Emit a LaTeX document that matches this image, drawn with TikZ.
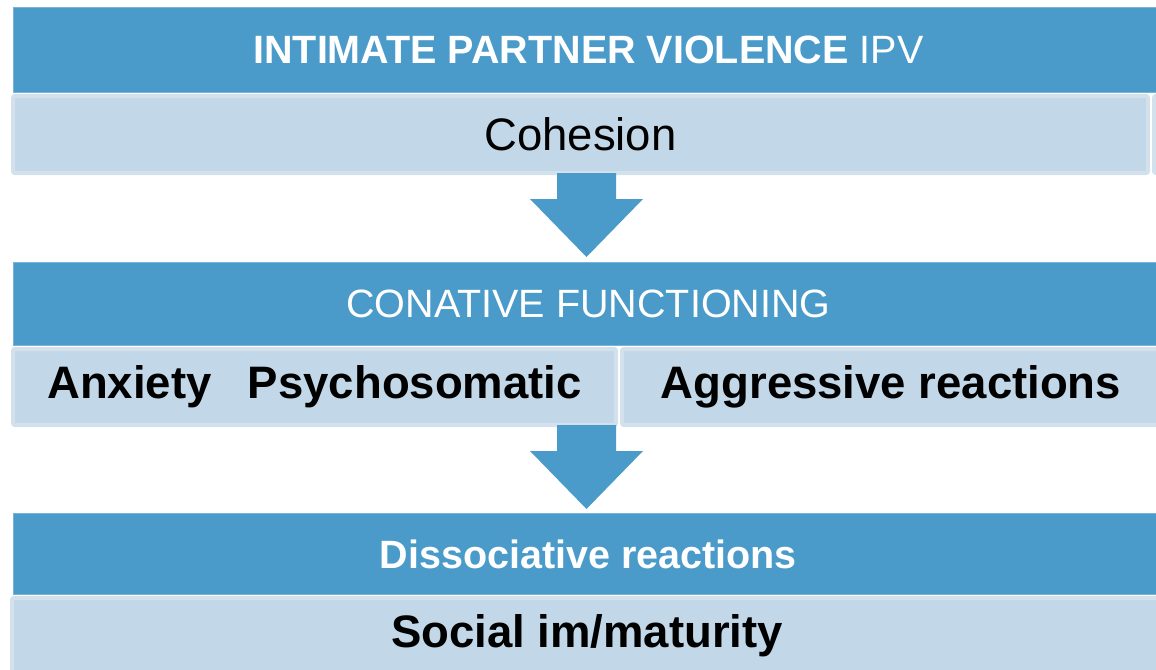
\documentclass[tikz,border=0pt]{standalone}
\usepackage{fontspec}
\setmainfont{Liberation Sans}

\definecolor{bandblue}{HTML}{4A9BCA}
\definecolor{paleblue}{HTML}{C2D7E7}
\definecolor{paleedge}{HTML}{D3E1EC}

\begin{document}
\begin{tikzpicture}[x=1pt,y=-1pt]

    \tikzset{titleband/.style={fill=bandblue,draw=bandblue!75!white,line width=0.8pt,anchor=north west,inner sep=0pt,text=white,font=\fontsize{39.5}{44}\selectfont}}
    \tikzset{itemband/.style={fill=paleblue,draw=paleedge,line width=4pt,rounded corners=2pt,anchor=north west,inner sep=0pt,font=\fontsize{45.5}{50}\selectfont\bfseries}}
    \tikzset{blockarrow/.pic={\fill[bandblue] (-29.5,0) -- (29.5,0) -- (29.5,26) -- (56.5,26) -- (0,84) -- (-56.5,26) -- (-29.5,26) -- cycle;}}

    \useasboundingbox (0,0) rectangle (1156,669);
    \clip (0,0) rectangle (1156,669);

    % first block
    \node[titleband,minimum width=1150pt,minimum height=85pt] (ipv) at (13,7) {\textbf{INTIMATE PARTNER VIOLENCE} IPV};
    \node[itemband,minimum width=1135pt,minimum height=77pt,font=\fontsize{45.5}{50}\selectfont] (cohesion) at (11,94) {Cohesion};
    \node[itemband,minimum width=40pt,minimum height=77pt] (cohesionend) at (1152,94) {};

    \coordinate (a1) at (586.5,173);
    \pic at (a1) {blockarrow};

    % second block
    \node[titleband,minimum width=1150pt,minimum height=83pt] (conative) at (13,262) {CONATIVE FUNCTIONING};
    \node[itemband,minimum width=603pt,minimum height=76pt] (symptoms) at (11,347) {Anxiety\hspace{0.8em}Psychosomatic};
    \node[itemband,minimum width=538pt,minimum height=76pt] (aggression) at (620,347) {Aggressive reactions};

    \coordinate (a2) at (586.5,425);
    \pic at (a2) {blockarrow};

    % third block
    \node[titleband,minimum width=1150pt,minimum height=81pt,font=\fontsize{39.5}{44}\selectfont\bfseries] (dissoc) at (13,513) {Dissociative reactions};
    \node[itemband,minimum width=1150pt,minimum height=76pt] (maturity) at (10,596) {Social im/maturity};

\end{tikzpicture}
\end{document}
